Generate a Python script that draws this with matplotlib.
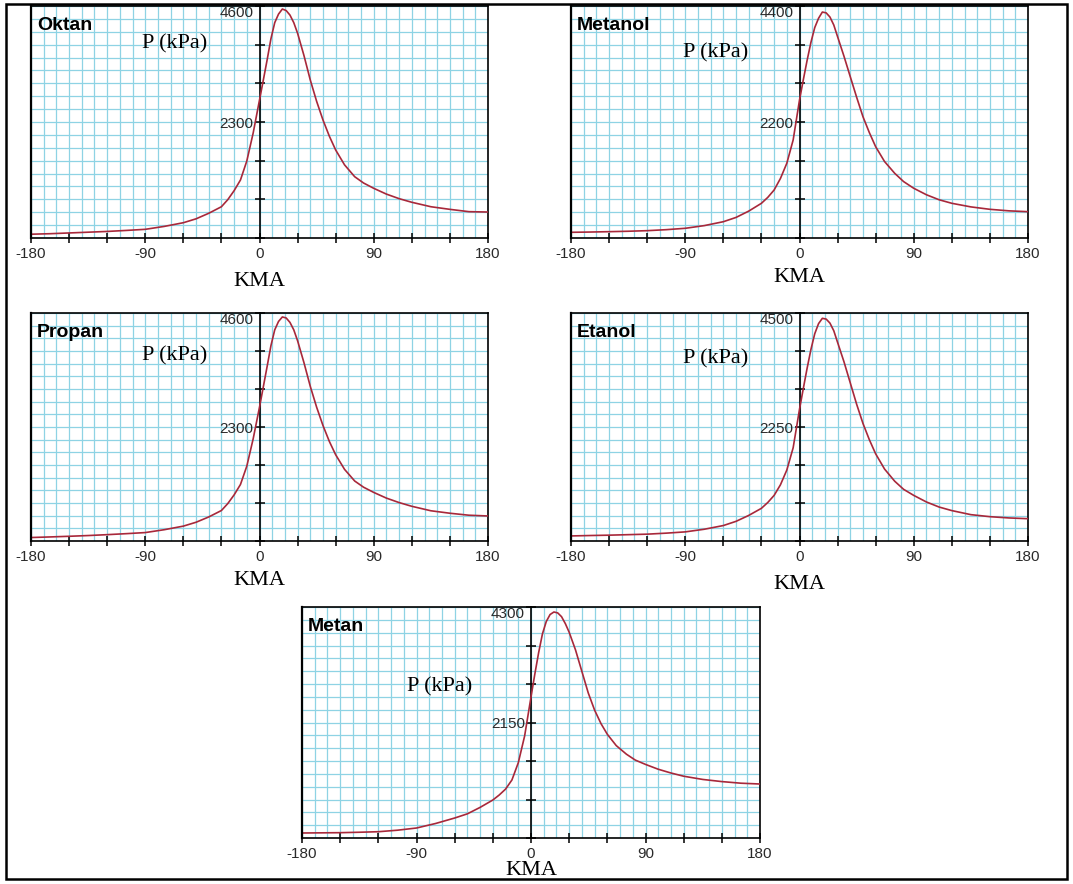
import matplotlib
matplotlib.use('Agg')
import matplotlib.pyplot as plt
from matplotlib.patches import Rectangle

# ---------------- data ----------------
angles = [-180, -165, -150, -135, -120, -105, -90, -75, -60, -50, -40, -30, -25, -20, -15, -10, -5,
          0, 3, 6, 9, 12, 15, 18, 21, 24, 27, 30, 35, 40, 45, 50, 55, 60, 67, 75, 82, 90,
          100, 110, 120, 135, 150, 165, 180]

p_oktan = [75, 85, 100, 115, 130, 150, 172, 230, 303, 380, 490, 620, 760, 938, 1150, 1527, 2080,
           2736, 3130, 3530, 3950, 4270, 4440, 4540, 4510, 4420, 4270, 4060, 3620, 3133, 2710, 2340,
           2020, 1745, 1450, 1215, 1090, 985, 870, 780, 708, 620, 568, 522, 515]
p_metanol = [108, 113, 120, 128, 139, 158, 184, 235, 309, 390, 510, 658, 770, 910, 1130, 1417, 1859,
             2617, 3000, 3370, 3710, 3990, 4167, 4285, 4270, 4190, 4040, 3818, 3450, 3059, 2670, 2300,
             2000, 1731, 1450, 1227, 1070, 943, 820, 725, 658, 590, 544, 515, 499]
p_propan = [70, 82, 95, 110, 128, 148, 170, 228, 300, 378, 485, 615, 755, 930, 1140, 1510, 2060,
            2700, 3110, 3520, 3940, 4260, 4430, 4520, 4500, 4410, 4260, 4040, 3600, 3120, 2700, 2330,
            2010, 1740, 1445, 1210, 1085, 980, 865, 775, 700, 610, 560, 520, 505]
p_etanol = [100, 108, 115, 125, 135, 155, 180, 232, 305, 388, 505, 645, 760, 900, 1110, 1400, 1840,
            2600, 3010, 3410, 3780, 4090, 4290, 4395, 4380, 4300, 4150, 3920, 3540, 3120, 2700, 2320,
            2000, 1720, 1420, 1180, 1020, 900, 770, 670, 600, 520, 480, 455, 440]
p_metan = [93, 96, 99, 107, 117, 145, 186, 270, 372, 450, 570, 707, 800, 910, 1080, 1400, 1900,
           2625, 3050, 3450, 3800, 4030, 4160, 4207, 4190, 4120, 3990, 3830, 3500, 3100, 2700, 2380,
           2130, 1930, 1720, 1560, 1450, 1370, 1280, 1210, 1150, 1090, 1050, 1020, 1005]

fuels = ['Oktan', 'Metanol', 'Propan', 'Etanol', 'Metan']
pressures = [p_oktan, p_metanol, p_propan, p_etanol, p_metan]
y_max = [4600, 4400, 4600, 4500, 4300]
x_ticks = [-180, -150, -120, -90, -60, -30, 0, 30, 60, 90, 120, 150, 180]
x_tick_labels = ['-180', '', '', '-90', '', '', '0', '', '', '90', '', '', '180']
x_label = 'KMA'
y_label = 'P (kPa)'

# ---------------- layout (pixels) ----------------
W, H = 1073, 884
panels_px = [  # x0, y0, x1, y1
    (31, 6, 488, 238),
    (571, 6, 1028, 238),
    (31, 313, 488, 541),
    (571, 313, 1028, 541),
    (302, 607, 760, 838),
]
ylabel_pos = [(0.315, 0.836), (0.317, 0.80), (0.315, 0.81), (0.317, 0.80), (0.30, 0.654)]
xlabel_pad = [8, 5, 5, 8, 0]

GRID = '#8ed3e4'
CURVE = '#a8283a'
TICKC = '#2a2a2a'

fig = plt.figure(figsize=(W / 100, H / 100), dpi=100)
fig.patch.set_facecolor('white')

for i, (name, p, ym) in enumerate(zip(fuels, pressures, y_max)):
    x0, y0, x1, y1 = panels_px[i]
    ax = fig.add_axes([x0 / W, 1 - y1 / H, (x1 - x0) / W, (y1 - y0) / H])
    ax.set_xlim(-180, 180)
    ax.set_ylim(0, ym)

    # grid
    ax.set_xticks(range(-180, 181, 10), minor=True)
    ax.set_yticks([ym * k / 18 for k in range(19)], minor=True)
    ax.set_axisbelow(True)
    ax.tick_params(which='minor', length=0)

    ax.plot(angles, p, color=CURVE, lw=1.2, zorder=3, solid_joinstyle='round')

    # spines
    for s in ['top', 'right', 'bottom']:
        ax.spines[s].set_color('black')
        ax.spines[s].set_linewidth(1.2)
    ax.spines['left'].set_position(('data', 0))
    ax.spines['left'].set_linewidth(1.2)
    ax.axvline(-180, color='black', lw=1.6, clip_on=False, zorder=4)

    ax.set_xticks(x_ticks)
    ax.set_xticklabels(x_tick_labels)
    yt = [ym * k / 6 for k in range(7)]
    ax.set_yticks(yt)
    ax.set_yticklabels(['', '', '', str(ym // 2), '', '', str(ym)])
    ax.grid(which='both', color=GRID, lw=0.9)
    ax.tick_params(axis='both', which='major', direction='inout', length=7, width=1.1,
                   colors='black', labelcolor=TICKC, labelsize=11)
    ax.tick_params(axis='x', pad=3)
    ax.tick_params(axis='y', pad=1)
    for lab in ax.get_xticklabels() + ax.get_yticklabels():
        lab.set_fontfamily('Liberation Sans')
    ax.get_yticklabels()[-1].set_va('top')

    ax.set_xlabel(x_label, family='Liberation Serif', fontsize=16, labelpad=xlabel_pad[i])
    ax.text(ylabel_pos[i][0], ylabel_pos[i][1], y_label, transform=ax.transAxes,
            family='Liberation Serif', fontsize=16, ha='center', va='center', zorder=5)
    ax.text(0.013, 0.915, name, transform=ax.transAxes, family='Liberation Sans',
            fontweight='bold', fontsize=14, ha='left', va='center', zorder=5)

# outer frame
fig.patches.append(Rectangle((6 / W, 1 - 879 / H), 1061 / W, 875 / H, transform=fig.transFigure,
                             fill=False, edgecolor='black', lw=1.8))

fig.savefig('out.png', dpi=100, facecolor='white')
